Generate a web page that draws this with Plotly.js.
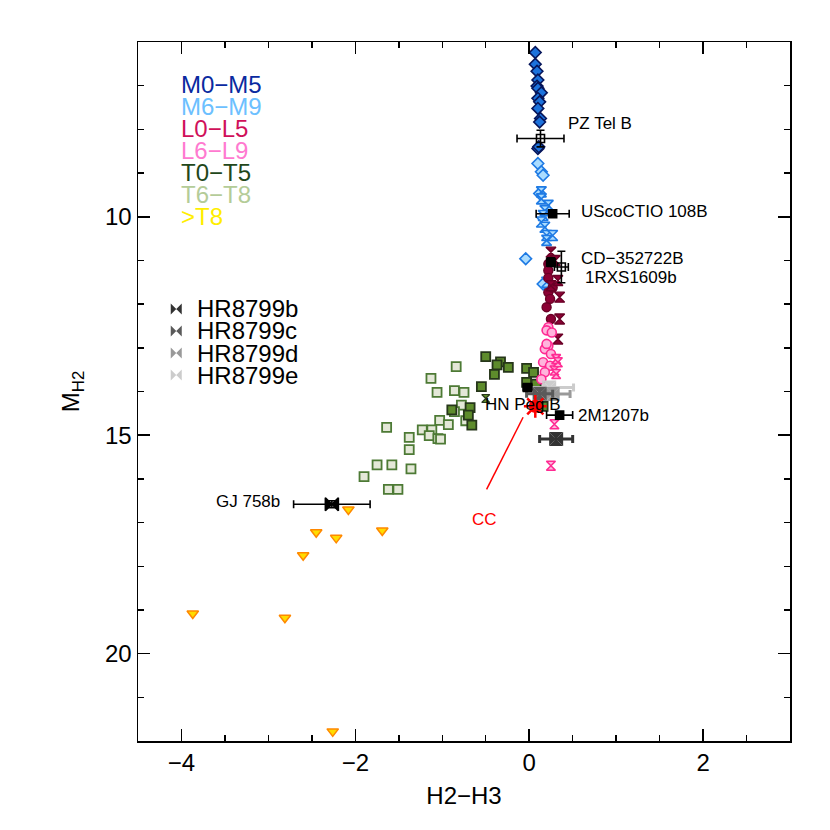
<!DOCTYPE html>
<html>
<head>
<meta charset="utf-8">
<script src="https://cdn.plot.ly/plotly-3.0.1.min.js"></script>
<style>
  html, body { margin: 0; padding: 0; background: white; }
  #plot { width: 830px; height: 830px; }
</style>
</head>
<body>
<div id="plot"></div>
<script>
// Field objects by spectral type (H2-H3 colour, absolute H2 magnitude)
var m05X = [0.07, 0.07, 0.09, 0.10, 0.09, 0.10, 0.14, 0.10, 0.12, 0.10, 0.13, 0.12, 0.10, 0.11];
var m05Y = [6.24, 6.51, 6.67, 6.87, 7.01, 7.06, 7.16, 7.29, 7.37, 7.52, 7.75, 7.83, 8.44, 8.40];

var m69DiaX = [0.10, 0.14, 0.16, -0.04, 0.16, 0.12];
var m69DiaY = [8.78, 8.97, 9.05, 10.96, 11.54, 9.47];
var m69HgX = [0.14, 0.14, 0.22, 0.18, 0.16, 0.14, 0.18, 0.20, 0.27, 0.20, 0.20];
var m69HgY = [9.43, 9.59, 9.74, 9.86, 9.97, 10.12, 10.24, 10.43, 10.43, 10.54, 11.50];

var l05CircX = [0.22, 0.22, 0.22, 0.24, 0.20, 0.25, 0.22, 0.27];
var l05CircY = [11.08, 11.23, 11.73, 11.88, 12.07, 12.34, 11.40, 11.62];
var l05HgX = [0.25, 0.33, 0.25, 0.35, 0.35, 0.33, 0.30];
var l05HgY = [10.81, 11.46, 11.58, 11.84, 12.34, 12.80, 11.00];

var l69CircX = [0.22, 0.20, 0.22, 0.18, 0.25, 0.16, 0.24, 0.18, 0.14, 0.26, 0.20];
var l69CircY = [12.53, 12.60, 12.95, 13.03, 13.14, 13.33, 13.41, 13.56, 13.72, 12.65, 12.91];
var l69HgX = [0.31, 0.29, 0.31, 0.29, 0.25, 0.33];
var l69HgY = [13.26, 13.52, 13.60, 14.75, 15.70, 13.33];

var t05X = [-0.50, -0.33, -0.37, -0.24, -0.40, -0.55, -0.68, -0.89, -0.70, -0.66, -0.03, 0.05, -0.03, 0.08, 0.16];
var t05Y = [13.20, 13.32, 13.39, 13.45, 13.61, 13.89, 14.37, 14.42, 14.54, 14.77, 13.47, 13.56, 13.79, 13.83, 14.34];
var t05HgX = [-0.50];
var t05HgY = [14.16];

var t68X = [-0.84, -1.13, -1.06, -0.86, -0.75, -0.78, -0.86, -0.73, -1.03, -0.93, -1.23, -1.12, -1.15, -1.05, -1.02,
            -1.64, -1.38, -1.38, -1.75, -1.58, -1.36, -1.90, -1.62, -1.51];
var t68Y = [13.43, 13.70, 14.02, 13.98, 14.02, 14.31, 14.46, 14.67, 14.66, 14.76, 14.88, 14.88, 15.01, 15.08, 15.09,
            14.82, 15.05, 15.33, 15.68, 15.68, 15.77, 15.95, 16.24, 16.24];

var yT8X = [-2.08, -2.45, -2.22, -1.69, -2.60, -3.87, -2.81, -2.26];
var yT8Y = [16.70, 17.22, 17.35, 17.18, 17.75, 19.08, 19.18, 21.78];

// Companions with error bars
var compNames = ['PZ Tel B', 'UScoCTIO 108B', '1RXS1609b', 'CD\u2212352722B', '2M1207b', 'HN Peg B', 'GJ 758b'];
var compX = [0.13, 0.27, 0.25, 0.37, 0.35, -0.02, -2.27];
var compY = [8.21, 9.93, 11.04, 11.15, 14.54, 13.91, 16.58];
var compEx = [0.27, 0.19, 0.05, 0.08, 0.15, 0.05, 0.44];
var compEy = [0.19, 0.07, 0.10, 0.36, 0.05, 0.05, 0.08];
var compSymbols = ['square-open', 'square', 'square', 'square-open', 'square', 'square', 'bowtie'];

var hrNames = ['HR8799b', 'HR8799c', 'HR8799d', 'HR8799e'];
var hrX = [0.31, 0.12, 0.27, 0.23];
var hrY = [15.09, 14.05, 14.06, 13.91];
var hrEx = [0.19, 0.15, 0.20, 0.28];
var hrColors = ['#333333', '#5a5a5a', '#999999', '#cccccc'];

var ccX = [0.07];
var ccY = [14.34];
var ccLineX = [-0.49, -0.07];
var ccLineY = [16.24, 14.59];

var typeLabels = ['M0\u2212M5', 'M6\u2212M9', 'L0\u2212L5', 'L6\u2212L9', 'T0\u2212T5', 'T6\u2212T8', '>T8'];
var typeColors = ['#0a2aa0', '#6cc0ff', '#d0105a', '#ff7ad0', '#22471a', '#b4cc98', '#ffee00'];

var font = 'Liberation Sans, Arial, Helvetica, sans-serif';

function pts(x, y, symbol, size, fill, edge, lw) {
  return {
    x: x, y: y, type: 'scatter', mode: 'markers', showlegend: false, hoverinfo: 'skip',
    marker: {symbol: symbol, size: size, color: fill, line: {color: edge, width: lw}}
  };
}

var traces = [
  pts(t68X, t68Y, 'square', 9, '#e4e8d8', '#4d7a35', 1.8),
  pts(t05X, t05Y, 'square', 9, '#5e8c2c', '#26361a', 1.8),
  pts(t05HgX, t05HgY, 'hourglass', 8, '#5e8c2c', '#26361a', 1.2),
  pts(m05X, m05Y, 'diamond', 9, '#1c72dc', '#06155a', 1.6),
  pts(m69DiaX, m69DiaY, 'diamond', 9, '#aadcff', '#1e7ae4', 1.6),
  pts(m69HgX, m69HgY, 'hourglass', 10, '#aadcff', '#1e7ae4', 1.6),
  pts(l05CircX, l05CircY, 'circle', 9, '#8c0034', '#6a0026', 1.4),
  pts(l05HgX, l05HgY, 'hourglass', 10, '#8c0034', '#6a0026', 1.4),
  pts(l69CircX, l69CircY, 'circle', 9, '#ffb4dc', '#ff2a92', 1.6),
  pts(l69HgX, l69HgY, 'hourglass', 9, '#ffb4dc', '#ff2a92', 1.6),
  pts(yT8X, yT8Y, 'triangle-down', 10, '#ffdd00', '#ff8800', 1.5)
];

// CC pointer line
traces.push({
  x: ccLineX, y: ccLineY, type: 'scatter', mode: 'lines', showlegend: false, hoverinfo: 'skip',
  line: {color: 'red', width: 1.5}
});

// HR8799 planets
for (var i = hrNames.length - 1; i >= 0; i--) {
  traces.push({
    x: [hrX[i]], y: [hrY[i]], type: 'scatter', mode: 'markers', showlegend: false, hoverinfo: 'skip',
    error_x: {type: 'data', array: [hrEx[i]], color: hrColors[i], thickness: 3, width: 4},
    marker: {symbol: 'bowtie', size: 14, color: hrColors[i], line: {width: 0}}
  });
  traces.push(pts([hrX[i]], [hrY[i]], 'hourglass', 14, hrColors[i], hrColors[i], 0));
}

// companions
for (var j = 0; j < compNames.length; j++) {
  traces.push({
    x: [compX[j]], y: [compY[j]], type: 'scatter', mode: 'markers', showlegend: false, hoverinfo: 'skip',
    error_x: {type: 'data', array: [compEx[j]], color: 'black', thickness: 1.6, width: 4},
    error_y: {type: 'data', array: [compEy[j]], color: 'black', thickness: 1.6, width: 4},
    marker: {symbol: compSymbols[j], size: compSymbols[j] === 'bowtie' ? 13 : 8, color: 'black',
             line: {color: 'black', width: 1.6}}
  });
}

// CC detection
traces.push(pts(ccX, ccY, 'circle', 13, 'red', 'red', 0));
traces.push(pts(ccX, ccY, 'asterisk-open', 19, 'red', 'red', 2.5));

// HR8799 legend keys (placed under the spectral-type legend)
var keyX0 = -4.06, keyY0 = 12.11, keyDy = 0.505;
for (var k = 0; k < hrNames.length; k++) {
  traces.push(pts([keyX0], [keyY0 + k * keyDy], 'bowtie', 11, hrColors[k], hrColors[k], 0));
}

var annotations = [];
typeLabels.forEach(function (t, i) {
  annotations.push({
    x: -4.03, y: 6.97 + i * 0.505, xref: 'x', yref: 'y', text: t, showarrow: false,
    xanchor: 'left', yanchor: 'middle', font: {family: font, size: 24, color: typeColors[i]}
  });
});
hrNames.forEach(function (t, i) {
  annotations.push({
    x: keyX0 + 0.21, y: keyY0 + i * keyDy, xref: 'x', yref: 'y', text: t, showarrow: false,
    xanchor: 'left', yanchor: 'middle', font: {family: font, size: 24, color: 'black'}
  });
});

var labelPos = [
  {text: 'PZ Tel B', x: 0.42, y: 7.87, anchor: 'left'},
  {text: 'UScoCTIO 108B', x: 0.57, y: 9.89, anchor: 'left'},
  {text: 'CD\u2212352722B', x: 0.57, y: 10.96, anchor: 'left'},
  {text: '1RXS1609b', x: 0.62, y: 11.38, anchor: 'left'},
  {text: 'HN Peg B', x: -0.53, y: 14.29, anchor: 'left'},
  {text: '2M1207b', x: 0.54, y: 14.56, anchor: 'left'},
  {text: 'GJ 758b', x: -2.84, y: 16.51, anchor: 'right'}
];
labelPos.forEach(function (l) {
  annotations.push({
    x: l.x, y: l.y, xref: 'x', yref: 'y', text: l.text, showarrow: false,
    xanchor: l.anchor, yanchor: 'middle', font: {family: font, size: 17, color: 'black'}
  });
});
annotations.push({
  x: -0.51, y: 16.93, xref: 'x', yref: 'y', text: 'CC', showarrow: false,
  xanchor: 'center', yanchor: 'middle', font: {family: font, size: 17, color: 'red'}
});

var axisCommon = {
  showgrid: false, zeroline: false, showline: true, linecolor: 'black', linewidth: 1.5,
  mirror: 'ticks', ticks: 'inside', tickcolor: 'black', tickwidth: 1.5, ticklen: 12,
  tickfont: {family: font, size: 24, color: 'black'}
};

var layout = {
  width: 830, height: 830,
  margin: {l: 138, r: 40, t: 42, b: 89},
  paper_bgcolor: 'white', plot_bgcolor: 'white',
  showlegend: false,
  font: {family: font, color: 'black'},
  xaxis: Object.assign({}, axisCommon, {
    range: [-4.5, 3], dtick: 2, tick0: 0,
    minor: {dtick: 0.5, ticks: 'inside', ticklen: 6, tickcolor: 'black', tickwidth: 1.5},
    title: {text: 'H2\u2212H3', font: {family: font, size: 24}, standoff: 12}
  }),
  yaxis: Object.assign({}, axisCommon, {
    range: [22, 6], dtick: 5, tick0: 0,
    minor: {dtick: 1, ticks: 'inside', ticklen: 6, tickcolor: 'black', tickwidth: 1.5},
    title: {text: 'M<sub>H2</sub>', font: {family: font, size: 24}, standoff: 18}
  }),
  annotations: annotations
};

Plotly.newPlot('plot', traces, layout, {displayModeBar: false, staticPlot: true});
</script>
</body>
</html>
